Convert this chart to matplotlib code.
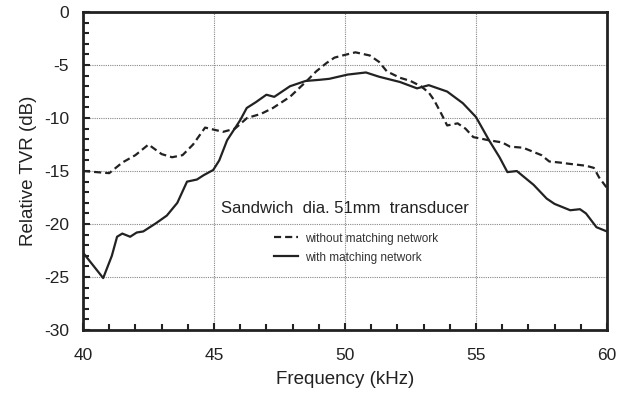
import numpy as np
from matplotlib import pyplot as plt
from matplotlib.ticker import MultipleLocator

plt.rcParams['font.family'] = ['Liberation Sans', 'DejaVu Sans']
plt.rcParams['axes.unicode_minus'] = False

# Relative TVR (dB)
freq_sem = [40.0, 41.0, 41.5, 42.0, 42.5, 43.0, 43.4, 43.8, 44.2, 44.66, 45.0, 45.35, 45.8,
            46.26, 46.8, 47.25, 47.9, 48.5, 48.9, 49.3, 49.6, 49.9, 50.4, 50.95, 51.3,
            51.6, 52.1, 52.5, 52.9, 53.2, 53.4, 53.7, 53.9, 54.3, 54.6, 54.9, 55.5,
            56.0, 56.3, 56.8, 57.2, 57.5, 57.8, 58.2, 58.5, 59.2, 59.5, 59.7, 60.0]
tvr_sem = [-15.0, -15.2, -14.2, -13.5, -12.5, -13.4, -13.7, -13.5, -12.5, -10.9, -11.1, -11.3, -11.0,
           -10.0, -9.6, -9.05, -8.0, -6.6, -5.6, -4.8, -4.3, -4.1, -3.8, -4.1, -4.7,
           -5.6, -6.2, -6.5, -7.0, -7.6, -8.3, -9.7, -10.7, -10.5, -11.0, -11.8, -12.1,
           -12.3, -12.7, -12.8, -13.2, -13.5, -14.1, -14.2, -14.3, -14.5, -14.7, -15.6, -16.6]

freq_com = [40.0, 40.77, 41.1, 41.3, 41.5, 41.8, 42.05, 42.3, 42.8, 43.2, 43.6, 43.97, 44.35,
            44.6, 44.97, 45.2, 45.5, 46.0, 46.25, 46.6, 47.0, 47.3, 47.9, 48.5, 49.0,
            49.4, 50.1, 50.8, 51.3, 52.1, 52.75, 53.2, 53.9, 54.5, 55.0, 55.5, 55.9,
            56.2, 56.56, 57.2, 57.7, 58.0, 58.6, 58.97, 59.2, 59.6, 60.0]
tvr_com = [-22.7, -25.1, -23.0, -21.2, -20.9, -21.2, -20.8, -20.7, -19.9, -19.2, -18.0, -16.0, -15.8,
           -15.4, -14.9, -14.0, -12.1, -10.2, -9.05, -8.5, -7.8, -8.0, -7.0, -6.5, -6.4,
           -6.3, -5.9, -5.7, -6.1, -6.6, -7.2, -6.9, -7.5, -8.6, -9.9, -12.1, -13.7,
           -15.1, -15.0, -16.3, -17.6, -18.1, -18.7, -18.6, -19.0, -20.3, -20.7]

fig = plt.figure(figsize=(6.27, 3.94), dpi=100)
ax = fig.add_axes([0.1324, 0.1624, 0.8356, 0.807])

ax.plot(freq_sem, tvr_sem, color='#222222', lw=1.6, ls=(0, (3.2, 1.8)),
        label='without matching network')
ax.plot(freq_com, tvr_com, color='#222222', lw=1.6, label='with matching network')

ax.set_xlim(40, 60)
ax.set_ylim(-30, 0)
ax.xaxis.set_major_locator(MultipleLocator(5))
ax.yaxis.set_major_locator(MultipleLocator(5))
ax.xaxis.set_minor_locator(MultipleLocator(1))
ax.yaxis.set_minor_locator(MultipleLocator(1))
ax.grid(True, which='major', color='#888888', ls=(0, (1, 1)), lw=0.8)
ax.tick_params(which='both', direction='in', colors='#222222', labelsize=12.5,
               top=False, right=False)
ax.tick_params(which='major', length=5, width=1.5)
ax.tick_params(axis='x', which='major', pad=13)
ax.tick_params(axis='y', which='major', pad=10)
ax.tick_params(which='minor', length=4, width=1.5)
for sp in ax.spines.values():
    sp.set_linewidth(2)
    sp.set_color('#222222')

ax.set_xlabel('Frequency (kHz)', fontsize=13.5, color='#222222', labelpad=6)
ax.set_ylabel('Relative TVR (dB)', fontsize=13.5, color='#222222', labelpad=5)

ax.text(50, -18.5, 'Sandwich  dia. 51mm  transducer', fontsize=12,
        ha='center', va='center', color='#222222')
leg = ax.legend(loc='upper left', bbox_to_anchor=(0.345, 0.34), frameon=False,
                fontsize=8.5, handlelength=2.0, handletextpad=0.6, labelspacing=0.6)
for t in leg.get_texts():
    t.set_color('#333333')

fig.savefig('out.png', dpi=100)
